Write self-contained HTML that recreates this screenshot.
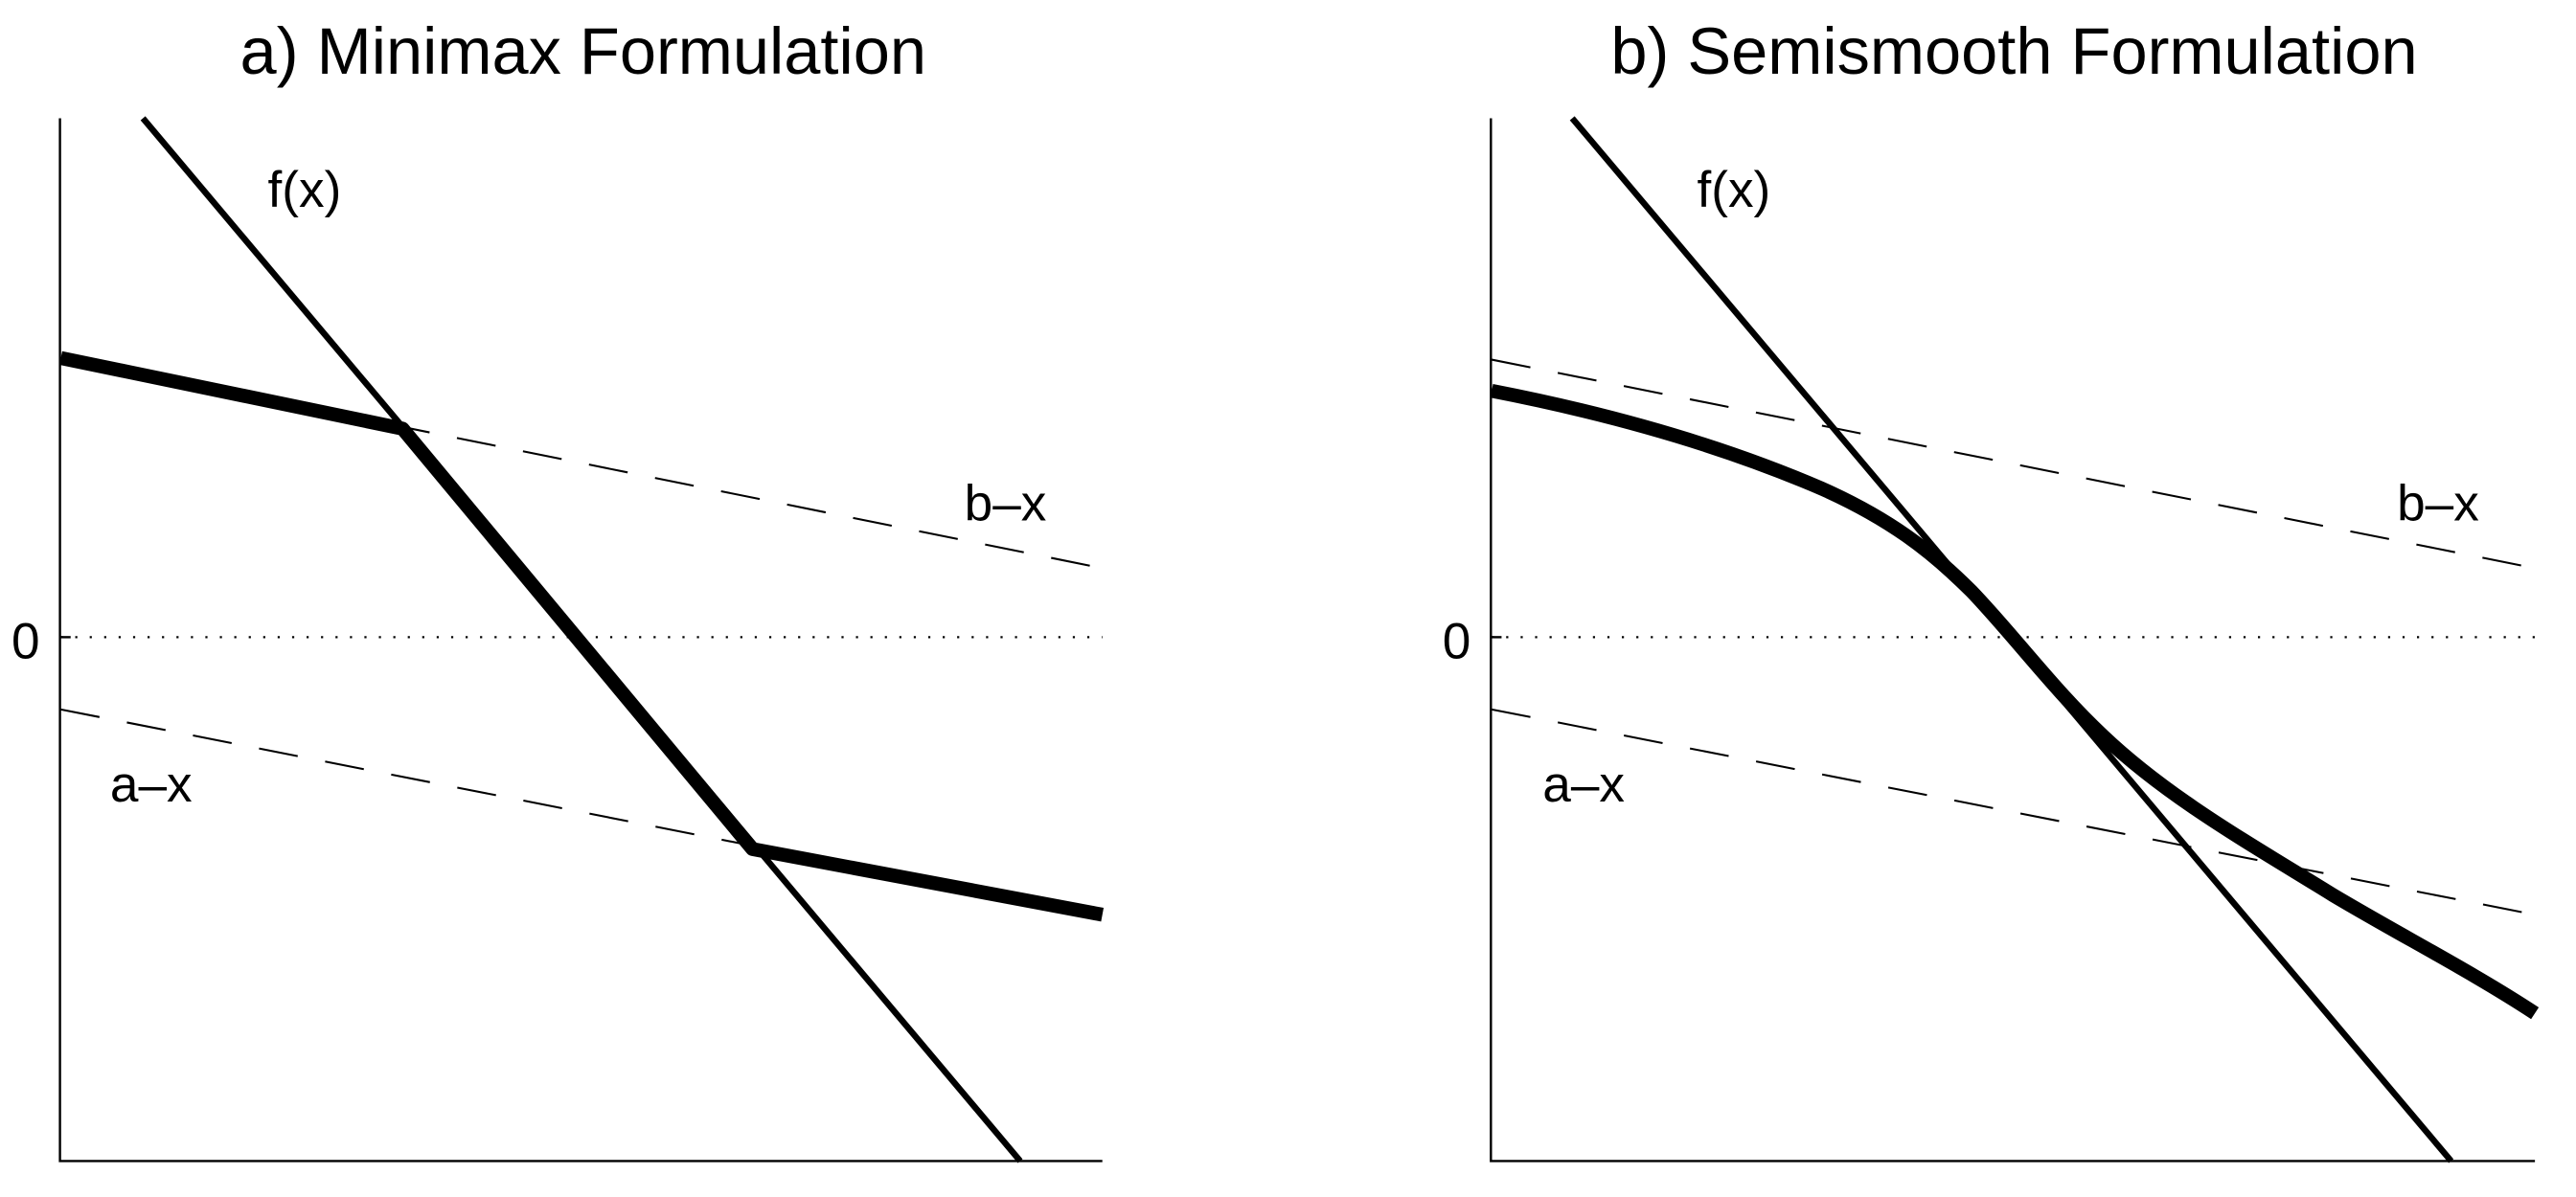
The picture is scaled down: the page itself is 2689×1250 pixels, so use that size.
<!DOCTYPE html>
<html><head><meta charset="utf-8"><style>html,body{margin:0;padding:0;background:#fff}svg{display:block}</style></head>
<body>
<svg width="2689" height="1250" viewBox="0 0 1568 728.9" preserveAspectRatio="none" xmlns="http://www.w3.org/2000/svg" font-family="Liberation Sans, Arial, sans-serif">
<rect width="1568" height="729" fill="#fff"/>
<g fill="none" stroke="#000">
<!-- Panel a -->
<path d="M36.5 72 V707 H671" stroke-width="1.4"/>
<line x1="37" y1="388" x2="671" y2="388" stroke-width="1.3" stroke-dasharray="1.3 7.5"/>
<line x1="37" y1="388" x2="43" y2="388" stroke-width="1.4"/>
<line x1="37" y1="218" x2="671" y2="346" stroke-width="1.2" stroke-dasharray="24 17"/>
<line x1="37" y1="432" x2="671" y2="557" stroke-width="1.2" stroke-dasharray="24 17"/>
<line x1="87" y1="72" x2="621" y2="707" stroke-width="3.8"/>
<polyline points="37,218 245,261 458,517 671,557" stroke-width="8.5" stroke-linejoin="round"/>
<!-- Panel b -->
<path d="M907.5 72 V707 H1543" stroke-width="1.4"/>
<line x1="908" y1="388" x2="1543" y2="388" stroke-width="1.3" stroke-dasharray="1.3 7.5"/>
<line x1="908" y1="388" x2="914" y2="388" stroke-width="1.4"/>
<line x1="908" y1="219" x2="1543" y2="346" stroke-width="1.2" stroke-dasharray="24 17"/>
<line x1="908" y1="432" x2="1543" y2="557" stroke-width="1.2" stroke-dasharray="24 17"/>
<line x1="957" y1="72" x2="1492" y2="707" stroke-width="3.8"/>
<path d="M908 238 C980 252 1050 272 1110 298 C1150 316 1175 335 1200 360 C1225 386 1250 420 1280 448 C1320 486 1370 514 1420 545 C1462 570 1505 592 1543 617" stroke-width="8.5"/>
</g>
<g fill="#000" font-size="31">
<text x="355" y="45" font-size="40" text-anchor="middle">a) Minimax Formulation</text>
<text x="1226" y="45" font-size="40" text-anchor="middle">b) Semismooth Formulation</text>
<text x="163" y="126">f(x)</text>
<text x="587" y="317">b–x</text>
<text x="67" y="488">a–x</text>
<text x="7" y="401">0</text>
<text x="1033" y="126">f(x)</text>
<text x="1459" y="317">b–x</text>
<text x="939" y="488">a–x</text>
<text x="878" y="401">0</text>
</g>
</svg>
</body></html>
